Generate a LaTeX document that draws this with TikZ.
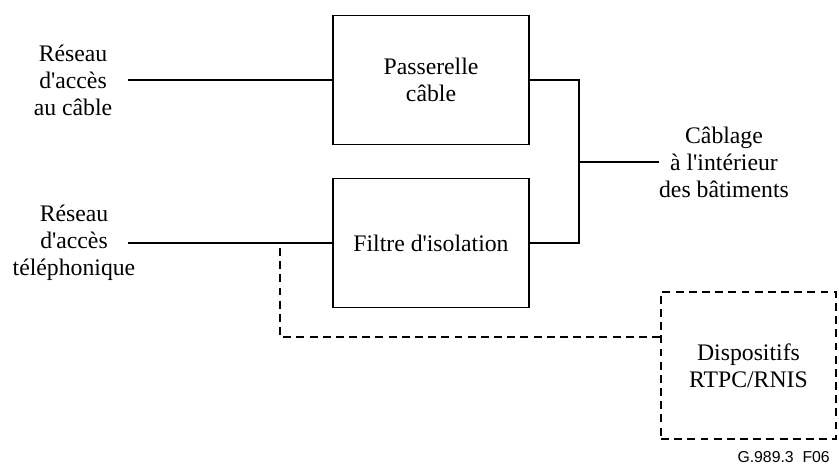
\documentclass[tikz,border=0pt]{standalone}
\usepackage{fontspec}
\setmainfont{Liberation Serif}
\setsansfont{Liberation Sans}
\newcommand{\apos}{\textquotesingle}

\begin{document}
\begin{tikzpicture}[x=0.02cm,y=-0.02cm]
        \tikzstyle{every node} = [rectangle, align=center, font=\fontsize{13.5}{15.3}\selectfont]
        \tikzstyle{unit} = [draw, line width=0.7pt, minimum width=3.92cm, minimum height=2.58cm]
        \tikzstyle{extunit} = [draw, line width=1.1pt, dash pattern=on 4.5pt off 3pt, minimum width=3.5cm, minimum height=2.94cm]
        \tikzstyle{wire} = [line width=0.7pt]
        \tikzstyle{tapwire} = [line width=1.1pt, dash pattern=on 4.5pt off 3pt]
        \useasboundingbox (0,0) rectangle (839,466);
        \node (cablenet) at (73,80) {Réseau\\d\apos accès\\au câble};
        \node (phonenet) at (74,243) {Réseau\\d\apos accès\\téléphonique};
        \node[unit] (gw) at (431,80) {Passerelle\\câble};
        \node[unit] (filt) at (431,243) {Filtre d\apos isolation};
        \node[inner sep=0pt] (inwire) at (724,162) {Câblage\\à l\apos intérieur\\des bâtiments};
        \node[extunit] (rtpc) at (748.5,365.5) {Dispositifs\\RTPC/RNIS};
        \node[anchor=east, font=\sffamily\fontsize{9}{10}\selectfont] (figref) at (836,457) {G.989.3\ \ F06};
        \coordinate (cablein) at (128,80);
        \coordinate (phonein) at (128,243);
        \coordinate (bus) at (579,162);
        \coordinate (tap) at (280,248);
        \coordinate (bend) at (280,337);
        \foreach \from/\to in {cablein/gw, phonein/filt, bus/inwire}
            \draw[wire] (\from) -- (\to);
        \draw[wire] (gw.east) -| (bus) |- (filt.east);
        \draw[tapwire] (tap) |- (rtpc.west |- bend);
\end{tikzpicture}
\end{document}
